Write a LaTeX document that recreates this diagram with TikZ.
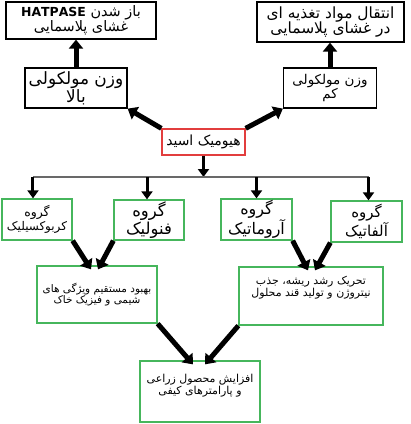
\documentclass[tikz,border=0pt]{standalone}
\usepackage{fontspec}
\newfontfamily\fa[Script=Arabic]{DejaVu Sans}
\TeXXeTstate=1
\usetikzlibrary{arrows.meta,calc}
\definecolor{grn}{RGB}{70,182,92}
\definecolor{rd}{RGB}{226,62,62}
\definecolor{busgray}{RGB}{105,105,105}
\newcommand{\rl}[1]{\beginR #1\endR}

\begin{document}
\begin{tikzpicture}[x=1bp,y=-1bp,
  fs/.style args={#1/#2}{font=\fa\fontsize{#1}{#2}\selectfont},
  box/.style={draw,line width=1.3bp,align=center,inner sep=1pt},
  blk/.style={box,draw=black},
  gbx/.style={box,draw=grn},
  rbx/.style={box,draw=rd},
  arr/.style={line width=5bp,-{Triangle[length=9bp,width=14bp]}},
  dn/.style={line width=3bp,-{Triangle[length=8bp,width=11bp]}}]
  \useasboundingbox (0,0) rectangle (411,424);

  \node[blk,fs=14.5/15,minimum width=150bp,minimum height=37bp] (hat) at (81,20.5)
    {\rl{باز شدن \beginL{\fontsize{12.5}{15}\selectfont\bfseries HATPASE}\endL}\\\rl{غشای پلاسمایی}};
  \node[blk,fs=15.5/16,minimum width=147bp,minimum height=40bp] (nutr) at (330.5,22)
    {\rl{انتقال مواد تغذیه ای}\\\rl{در غشای پلاسمایی}};
  \node[blk,fs=17/17,minimum width=102bp,minimum height=40bp] (high) at (76,88)
    {\rl{وزن مولکولی}\\\rl{بالا}};
  \node[blk,fs=13.5/13.5,minimum width=93bp,minimum height=40bp] (low) at (330,88)
    {\rl{وزن مولکولی}\\\rl{کم}};
  \node[rbx,fs=14/14,minimum width=83bp,minimum height=26bp] (humic) at (203.5,142)
    {\rl{هیومیک اسید}};

  \node[gbx,fs=12/14,minimum width=70bp,minimum height=41bp] (carb) at (37,219.5)
    {\rl{\fontsize{12.5}{14}\selectfont گروه}\\\rl{کربوکسیلیک}};
  \node[gbx,fs=16.5/16,minimum width=70bp,minimum height=40bp] (phen) at (149,220)
    {\rl{گروه}\\\rl{فنولیک}};
  \node[gbx,fs=16/17,minimum width=71bp,minimum height=41bp] (arom) at (256.5,219.5)
    {\rl{گروه}\\\rl{آروماتیک}};
  \node[gbx,fs=15/16,minimum width=71bp,minimum height=41bp] (alif) at (366.5,221.5)
    {\rl{گروه}\\\rl{آلفاتیک}};

  \node[gbx,fs=10.5/10.5,minimum width=120bp,minimum height=57bp] (soil) at (97,294.5)
    {\rl{بهبود مستقیم ویژگی های}\\\rl{شیمی و فیزیک خاک}};
  \node[gbx,fs=11/11,minimum width=144bp,minimum height=58bp] (root) at (311,296)
    {\rl{تحریک رشد ریشه، جذب}\\\rl{نیتروژن و تولید قند محلول}\\[8bp]};
  \node[gbx,fs=11/11,minimum width=120bp,minimum height=61bp] (crop) at (200,391.5)
    {\rl{افزایش محصول زراعی}\\\rl{و پارامترهای کیفی}\\[4bp]};

  \coordinate (bus) at (203.5,177);

  \draw[arr] (high.north) -- (high.north |- hat.south);
  \draw[arr] (low.north) -- (low.north |- nutr.south);
  \draw[arr] (humic.north west) -- (high.south east);
  \draw[arr] (humic.north east) -- (low.south west);

  \draw[dn] (humic.south) -- (bus);
  \draw[busgray,line width=1.5bp] ([xshift=-4bp]carb.north |- bus) -- ([xshift=2bp]alif.north |- bus);
  \draw[dn] ([xshift=-4bp]carb.north |- bus) -- ([xshift=-4bp]carb.north);
  \draw[dn] ([xshift=-2bp]phen.north |- bus) -- ([xshift=-2bp]phen.north);
  \draw[dn] (arom.north |- bus) -- (arom.north);
  \draw[dn] ([xshift=2bp]alif.north |- bus) -- ([xshift=2bp]alif.north);

  \draw[arr] (carb.south east) -- ([xshift=-6bp,yshift=-4bp]soil.north);
  \draw[arr] (phen.south west) -- ([xshift=1bp,yshift=-4bp]soil.north);
  \draw[arr] (arom.south east) -- ([xshift=-3bp,yshift=-4bp]root.north);
  \draw[arr] (alif.south west) -- ([xshift=4bp,yshift=-4bp]root.north);
  \draw[arr] (soil.south east) -- ([xshift=-7bp,yshift=-4bp]crop.north);
  \draw[arr] (root.south west) -- ([xshift=5bp,yshift=-4bp]crop.north);
\end{tikzpicture}
\end{document}
